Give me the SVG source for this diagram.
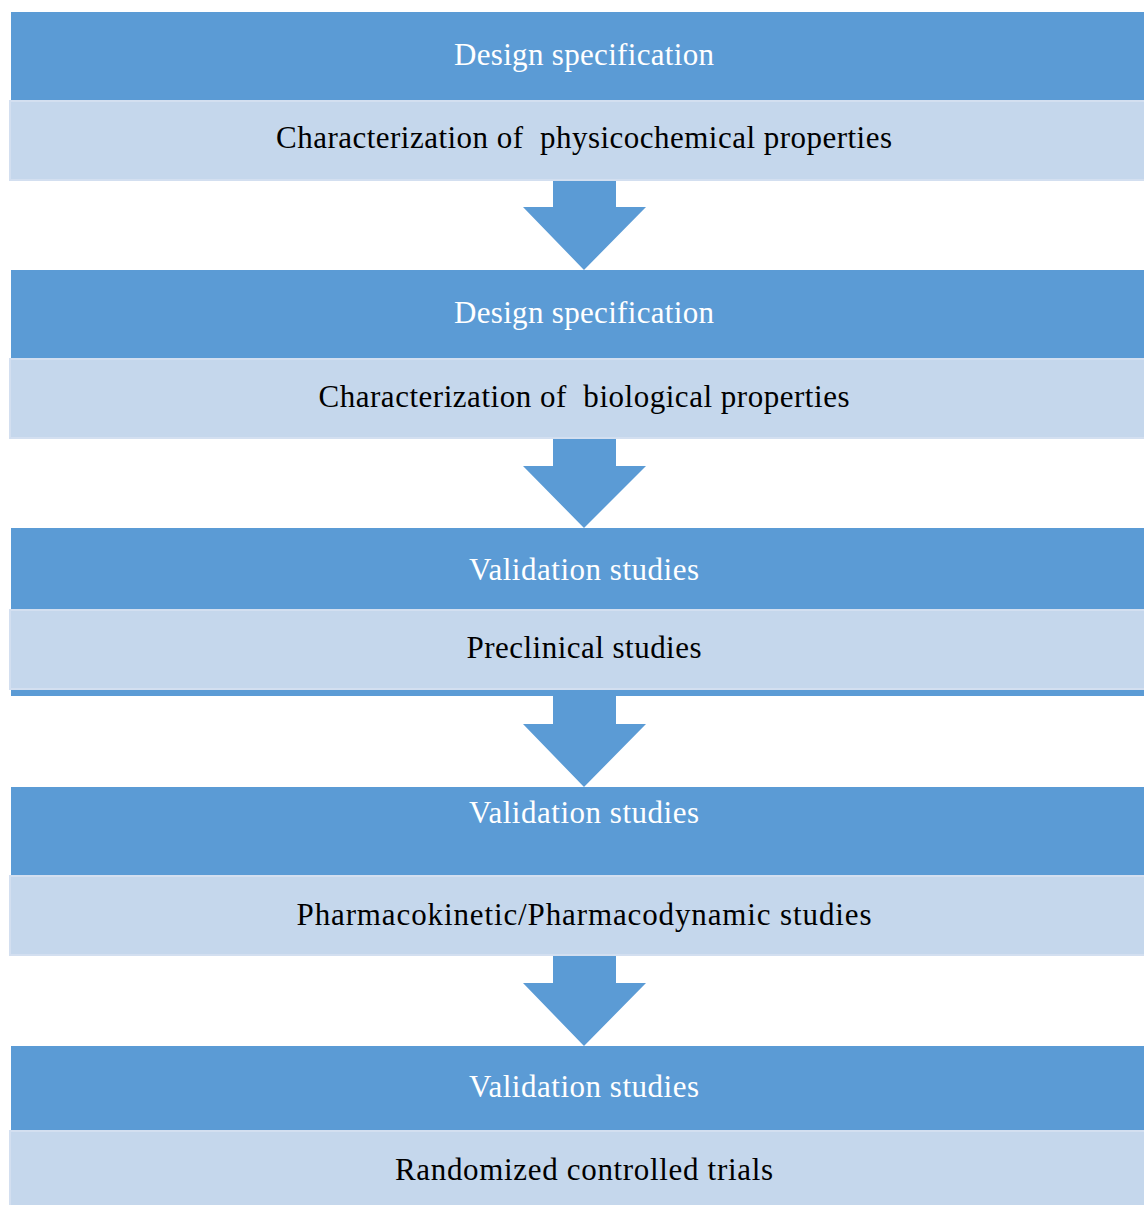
<svg xmlns="http://www.w3.org/2000/svg" width="1144" height="1205" viewBox="0 0 1144 1205">
<style>
.dark{fill:#5b9bd5}
.light{fill:#c5d7ec;stroke:#d3dff0;stroke-width:2}
.arrow{fill:#5b9bd5}
text{font-family:"Liberation Serif","Times New Roman",serif;font-size:31px;text-anchor:middle}
.w{fill:#ffffff}
.b{fill:#000000}
</style>
<rect width="1144" height="1205" fill="#ffffff"/>
<g id="connectors">
<polygon class="arrow" points="553,181 616,181 616,207 646,207 584,270 523,207 553,207"/>
<polygon class="arrow" points="553,439 616,439 616,466 646,466 584,528 523,466 553,466"/>
<polygon class="arrow" points="553,696 616,696 616,724 646,724 584,787 523,724 553,724"/>
<polygon class="arrow" points="553,956 616,956 616,983 646,983 584,1046 523,983 553,983"/>
</g>
<g id="node1">
<rect class="dark" x="11" y="12" width="1140" height="89"/>
<rect class="light" x="10" y="101" width="1140" height="79"/>
<text class="w" x="584" y="65" textLength="260">Design specification</text>
<text class="b" x="584" y="148" textLength="616" xml:space="preserve">Characterization of  physicochemical properties</text>
</g>
<g id="node2">
<rect class="dark" x="11" y="270" width="1140" height="89"/>
<rect class="light" x="10" y="359" width="1140" height="79"/>
<text class="w" x="584" y="323" textLength="260">Design specification</text>
<text class="b" x="584" y="407" textLength="531" xml:space="preserve">Characterization of  biological properties</text>
</g>
<g id="node3">
<rect class="dark" x="11" y="528" width="1140" height="168"/>
<rect class="light" x="10" y="610" width="1140" height="79"/>
<text class="w" x="584" y="580" textLength="230">Validation studies</text>
<text class="b" x="584" y="658" textLength="235">Preclinical studies</text>
</g>
<g id="node4">
<rect class="dark" x="11" y="787" width="1140" height="89"/>
<rect class="light" x="10" y="876" width="1140" height="79"/>
<text class="w" x="584" y="823" textLength="230">Validation studies</text>
<text class="b" x="584" y="925" textLength="575">Pharmacokinetic/Pharmacodynamic studies</text>
</g>
<g id="node5">
<rect class="dark" x="11" y="1046" width="1140" height="85"/>
<rect class="light" x="10" y="1131" width="1140" height="80"/>
<text class="w" x="584" y="1097" textLength="230">Validation studies</text>
<text class="b" x="584" y="1180" textLength="378">Randomized controlled trials</text>
</g>
</svg>
